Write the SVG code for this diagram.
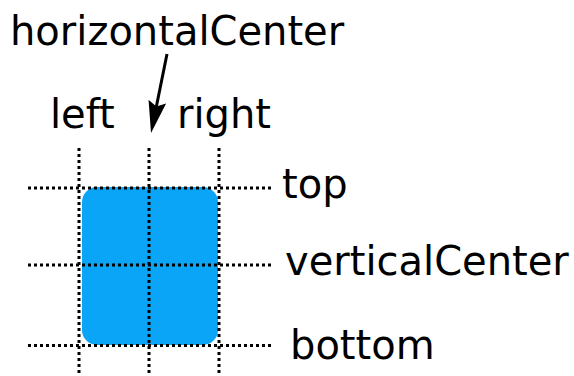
<svg xmlns="http://www.w3.org/2000/svg" width="574" height="376" viewBox="0 0 574 376">
<style>
text{font-family:"DejaVu Sans",sans-serif;font-size:40px;fill:#000}
.dot{stroke:#000;stroke-width:3;stroke-dasharray:3 3;fill:none}
.arrow{stroke:#000;stroke-width:3;fill:none}
</style>
<defs>
<marker id="ah" markerUnits="userSpaceOnUse" viewBox="0 0 32 18" refX="20" refY="9" markerWidth="32" markerHeight="18" orient="auto">
<path d="M0,0 L32,9 L0,18 L5,9 Z" fill="#000"/>
</marker>
</defs>
<rect id="item" x="82" y="187" width="136" height="158" rx="15" fill="#0aa5f7"/>
<g id="guides">
<line class="dot" x1="79" y1="148" x2="79" y2="376"/>
<line class="dot" x1="149" y1="148" x2="149" y2="376"/>
<line class="dot" x1="219" y1="148" x2="219" y2="376"/>
<line class="dot" x1="28" y1="188" x2="272" y2="188"/>
<line class="dot" x1="28" y1="265" x2="272" y2="265"/>
<line class="dot" x1="28" y1="345.5" x2="272" y2="345.5"/>
</g>
<g id="connectors">
<line class="arrow" x1="167" y1="54" x2="153.4" y2="121.2" marker-end="url(#ah)"/>
</g>
<g id="label-horizontalCenter"><text x="10" y="45">horizontalCenter</text></g>
<g id="label-left"><text x="50" y="128">left</text></g>
<g id="label-right"><text x="177" y="128">right</text></g>
<g id="label-top"><text x="282" y="198">top</text></g>
<g id="label-verticalCenter"><text x="285" y="275">verticalCenter</text></g>
<g id="label-bottom"><text x="290" y="359">bottom</text></g>
</svg>
